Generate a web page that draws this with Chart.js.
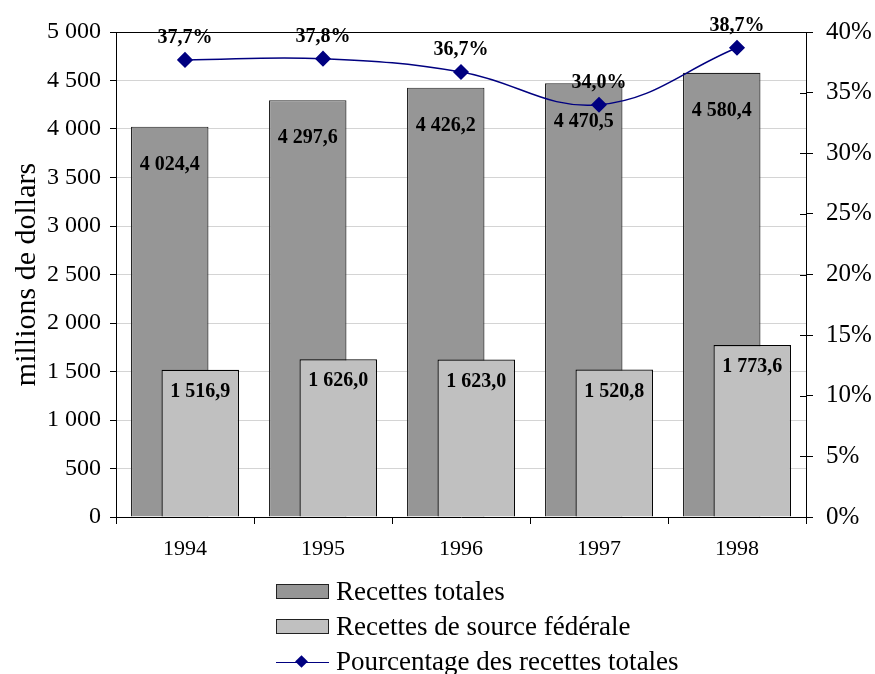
<!DOCTYPE html>
<html>
<head>
<meta charset="utf-8">
<script src="https://cdn.jsdelivr.net/npm/chart.js@4.4.0/dist/chart.umd.min.js"></script>
<style>
  html, body { margin: 0; padding: 0; background: #fff; }
  #wrap { position: relative; width: 875px; height: 674px; }
  #legend { position: absolute; left: 276px; top: 574px; font-family: "Liberation Serif", serif; font-size: 27px; color: #000; }
  .row { display: flex; align-items: center; height: 35px; }
  .box { width: 51px; height: 13px; border: 1px solid #222; margin-right: 7px; }
  .sym { position: relative; width: 53px; height: 14px; margin-right: 7px; }
  .sym .ln { position: absolute; left: 0; right: 0; top: 7px; height: 1.5px; background: #000080; }
  .sym .dm { position: absolute; left: 21px; top: 2px; width: 9px; height: 9px; background: #000080; transform: rotate(45deg); }
</style>
</head>
<body>
<div id="wrap">
  <canvas id="chart-recettes" width="875" height="674"></canvas>
  <div id="legend"></div>
</div>
<script>
const years = ['1994', '1995', '1996', '1997', '1998'];
const totalRevenue = [4024.4, 4297.6, 4426.2, 4470.5, 4580.4];
const federalRevenue = [1516.9, 1626.0, 1623.0, 1520.8, 1773.6];
const federalShare = [37.7, 37.8, 36.7, 34.0, 38.7];
const seriesNames = ['Recettes totales', 'Recettes de source fédérale', 'Pourcentage des recettes totales'];

const darkGrey = '#969696';
const lightGrey = '#c0c0c0';
const navy = '#000080';
const serif = '"Liberation Serif", "Times New Roman", serif';

// French style numbers: "4 024,4"
function frNumber(v, decimals) {
    const parts = v.toFixed(decimals).split('.');
    const intPart = parts[0].replace(/\B(?=(\d{3})+(?!\d))/g, ' ');
    return parts.length > 1 ? intPart + ',' + parts[1] : intPart;
}

// draw bars behind the line, dark bars first, then labels + frame
const drawOrder = {
    id: 'drawOrder',
    beforeDatasetsDraw(chart) {
        [0, 1, 2].forEach(i => chart.getDatasetMeta(i).controller.draw());
        return false;
    },
    afterDraw(chart) {
        const ctx = chart.ctx;
        const area = chart.chartArea;
        ctx.save();

        // frame top line + right-axis ticks crossing inside
        ctx.strokeStyle = '#000';
        ctx.lineWidth = 1;
        ctx.beginPath();
        ctx.moveTo(area.left, area.top + 0.5);
        ctx.lineTo(area.right, area.top + 0.5);
        const y1 = chart.scales.y1;
        y1.ticks.forEach(t => {
            const py = Math.round(y1.getPixelForValue(t.value)) + 0.5;
            ctx.moveTo(area.right - 6, py);
            ctx.lineTo(area.right, py);
        });
        ctx.stroke();

        ctx.fillStyle = '#000';
        ctx.font = 'bold 20px ' + serif;
        ctx.textAlign = 'center';
        ctx.textBaseline = 'middle';

        chart.getDatasetMeta(0).data.forEach((bar, i) => {
            ctx.fillText(frNumber(totalRevenue[i], 1), bar.x, bar.y + 38);
        });
        chart.getDatasetMeta(1).data.forEach((bar, i) => {
            ctx.fillText(frNumber(federalRevenue[i], 1), bar.x, bar.y + 22);
        });
        chart.getDatasetMeta(2).data.forEach((pt, i) => {
            ctx.fillText(frNumber(federalShare[i], 1) + '%', pt.x, pt.y - 22);
        });
        ctx.restore();
    }
};

const ctx = document.getElementById('chart-recettes').getContext('2d');
new Chart(ctx, {
    type: 'bar',
    data: {
        labels: years,
        datasets: [
            {
                label: seriesNames[0],
                data: totalRevenue,
                backgroundColor: darkGrey,
                borderColor: '#222',
                borderWidth: 1.2,
                categoryPercentage: 0.442,
                barPercentage: 2.54,
                yAxisID: 'y'
            },
            {
                label: seriesNames[1],
                data: federalRevenue,
                backgroundColor: lightGrey,
                borderColor: '#000',
                borderWidth: 1.2,
                categoryPercentage: 0.442,
                barPercentage: 2.54,
                yAxisID: 'y'
            },
            {
                type: 'line',
                label: seriesNames[2],
                data: federalShare,
                borderColor: navy,
                borderWidth: 1.5,
                backgroundColor: navy,
                pointStyle: 'rectRot',
                pointRadius: 7,
                pointBackgroundColor: navy,
                pointBorderColor: navy,
                tension: 0.4,
                yAxisID: 'y1'
            }
        ]
    },
    options: {
        responsive: false,
        animation: false,
        layout: { padding: { top: 32, left: 0, right: 0, bottom: 0 } },
        plugins: {
            legend: { display: false },
            tooltip: { enabled: false }
        },
        scales: {
            x: {
                offset: true,
                grid: { drawOnChartArea: false, offset: true, tickLength: 7, tickColor: '#000' },
                border: { color: '#000', width: 1 },
                ticks: { color: '#000', font: { family: serif, size: 22 }, padding: 12 },
                afterFit(scale) { scale.height = 157; }
            },
            y: {
                position: 'left',
                min: 0,
                max: 5000,
                ticks: {
                    stepSize: 500,
                    color: '#000',
                    font: { family: serif, size: 24 },
                    padding: 9,
                    callback: v => frNumber(v, 0)
                },
                grid: { color: '#d4d4d4', tickColor: '#000', tickLength: 6 },
                border: { color: '#000', width: 1 },
                title: {
                    display: true,
                    text: 'millions de dollars',
                    color: '#000',
                    font: { family: serif, size: 30 },
                    padding: { top: 9, bottom: 0 }
                },
                afterFit(scale) { scale.width = 116; }
            },
            y1: {
                position: 'right',
                min: 0,
                max: 40,
                ticks: {
                    stepSize: 5,
                    color: '#000',
                    font: { family: serif, size: 25 },
                    padding: 13,
                    callback: v => v + '%'
                },
                grid: { drawOnChartArea: false, tickColor: '#000', tickLength: 7 },
                border: { color: '#000', width: 1 },
                afterFit(scale) { scale.width = 69; }
            }
        }
    },
    plugins: [drawOrder]
});

// legend: vertical list, like the original
const legendEl = document.getElementById('legend');
legendEl.innerHTML =
    '<div class="row"><div class="box" style="background:' + darkGrey + '"></div>' + seriesNames[0] + '</div>' +
    '<div class="row"><div class="box" style="background:' + lightGrey + '"></div>' + seriesNames[1] + '</div>' +
    '<div class="row"><div class="sym"><div class="ln"></div><div class="dm"></div></div>' + seriesNames[2] + '</div>';
</script>
</body>
</html>
